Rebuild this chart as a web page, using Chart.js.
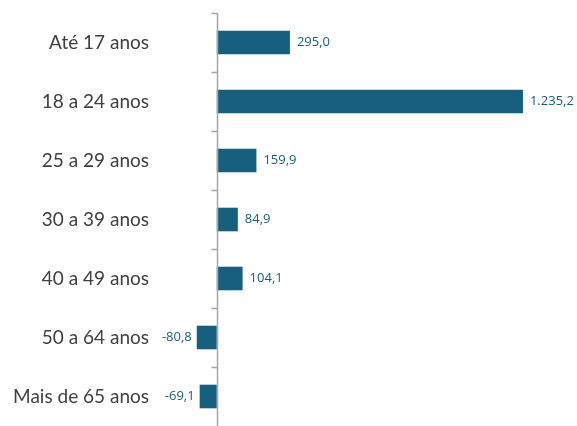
<!DOCTYPE html>
<html>
<head>
<meta charset="utf-8">
<script src="https://cdn.jsdelivr.net/npm/chart.js@4.4.1/dist/chart.umd.min.js"></script>
<style>
  html, body { margin: 0; padding: 0; background: #fff; overflow: hidden; }
  canvas { display: block; }
</style>
</head>
<body>
<canvas id="barChart" width="577" height="426"></canvas>
<script>
const categories = ['Até 17 anos', '18 a 24 anos', '25 a 29 anos', '30 a 39 anos', '40 a 49 anos', '50 a 64 anos', 'Mais de 65 anos']
const values = [295.0, 1235.2, 159.9, 84.9, 104.1, -80.8, -69.1]

const barColor = '#17607d'
const axisColor = '#a6a6a6'

function fmt(v) {
  return v.toLocaleString('pt-BR', { minimumFractionDigits: 1, maximumFractionDigits: 1 })
}

// zero axis line with small ticks between categories
const zeroAxis = {
  id: 'zeroAxis',
  afterDatasetsDraw(chart) {
    const ctx = chart.ctx
    const x0 = Math.round(chart.scales.x.getPixelForValue(0)) + 0.5
    const area = chart.chartArea
    const y = chart.scales.y
    const step = y.getPixelForValue(1) - y.getPixelForValue(0)
    ctx.save()
    ctx.strokeStyle = axisColor
    ctx.lineWidth = 1.5
    ctx.beginPath()
    ctx.moveTo(x0, area.top)
    ctx.lineTo(x0, area.bottom)
    for (let i = 0; i < categories.length; i++) {
      const yy = Math.round(y.getPixelForValue(i) - step / 2) + 0.5
      ctx.moveTo(x0 - 6, yy)
      ctx.lineTo(x0, yy)
    }
    ctx.stroke()
    ctx.restore()
  }
}

const valueLabels = {
  id: 'valueLabels',
  afterDatasetsDraw(chart) {
    const ctx = chart.ctx
    const meta = chart.getDatasetMeta(0)
    ctx.save()
    ctx.font = '13px "Open Sans", sans-serif'
    ctx.fillStyle = barColor
    ctx.textBaseline = 'middle'
    meta.data.forEach((bar, i) => {
      const v = values[i]
      if (v >= 0) {
        ctx.textAlign = 'left'
        ctx.fillText(fmt(v), bar.x + 7, bar.y)
      } else {
        ctx.textAlign = 'right'
        ctx.fillText(fmt(v), bar.x - 5, bar.y)
      }
    })
    ctx.restore()
  }
}

new Chart(document.getElementById('barChart').getContext('2d'), {
  type: 'bar',
  data: {
    labels: categories,
    datasets: [{
      data: values,
      backgroundColor: barColor,
      borderWidth: 0,
      categoryPercentage: 1,
      barPercentage: 0.4
    }]
  },
  options: {
    indexAxis: 'y',
    responsive: false,
    animation: false,
    layout: { padding: { top: 13, right: 38, bottom: -4, left: 0 } },
    plugins: {
      legend: { display: false },
      tooltip: { enabled: false }
    },
    scales: {
      x: {
        min: -100,
        max: 1300,
        display: false
      },
      y: {
        offset: true,
        border: { display: false },
        grid: { display: false, drawTicks: false },
        ticks: {
          color: '#404040',
          padding: 43,
          font: { family: 'Lato, "Open Sans", sans-serif', size: 19 }
        },
        afterFit(scale) {
          scale.width = 192
          scale.paddingTop = 0
          scale.paddingBottom = 0
        }
      }
    }
  },
  plugins: [zeroAxis, valueLabels]
})
</script>
</body>
</html>
